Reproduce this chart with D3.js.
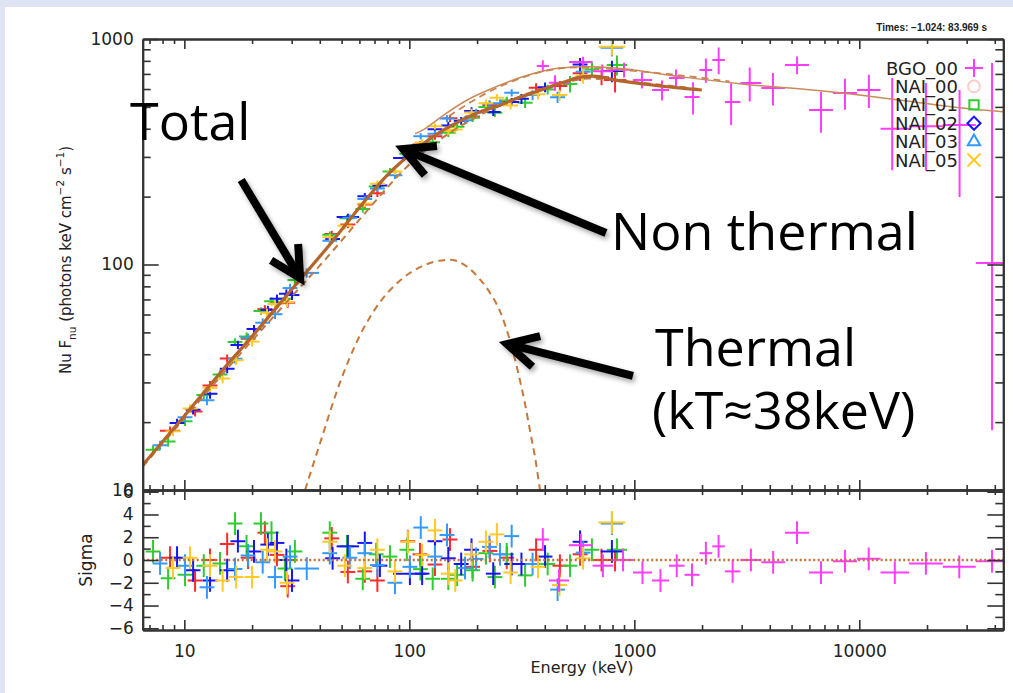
<!DOCTYPE html>
<html><head><meta charset="utf-8">
<script src="https://cdn.jsdelivr.net/npm/d3@7"></script>
<style>
html,body{margin:0;padding:0;background:#dfe4f4;}
svg{display:block;}
</style></head><body>
<svg id="chart" width="1013" height="693"></svg>
<script>
// ---------------- data ----------------
// detector names and colours (legend order)
const detectorNames = ["BGO_00", "NAI_00", "NAI_01", "NAI_02", "NAI_03", "NAI_05"];
const detectorColors = ["#ff3cff", "#ff2a2a", "#2ecc2e", "#1515ff", "#3399ff", "#ffc928"];
const legendColors = ["#ff3cff", "#ffcccc", "#2ecc2e", "#1515ff", "#3399ff", "#ffc928"];

// NaI spectra: [energy keV, nuFnu, error, residual sigma, (optional half bin width, dex)]
const nai00 = [
  [8.64,18.3,0.81,0.2,0.045],[11.16,22.3,1.1,-1.8],[13.0,29.1,1.3,0.0],[15.5,38.3,1.6,1.4],
  [19.2,46.9,2.1,0.2],[22.8,63.4,2.6,2.4],[25.8,67.3,3.0,0.45],[28.8,67.7,3.4,-2.3],
  [45.2,136.5,4.5,1.9],[53.3,150.3,5.5,-1.05],[63.4,184.3,6.7,-1.0],[72.1,207,7.7,-1.8],
  [98.5,320.5,10.6,1.65],[111.5,340.9,11.7,0.5],[130,370.7,13.2,-0.4],[151.6,444.9,16.6,1.8],
  [191,452.9,18.6,-0.6],[228,509.8,19.8,0.8],[271,527.2,21,0.2],[366,608,29,0.9],
  [467,619,32,-0.5],[574,705,54,0.5],[715,677,54,0.0],[821,658,79,0.0,0.05]
];
const nai01 = [
  [7.26,15.1,0.66,0.75],[8.47,16.4,0.8,-1.6],[10.07,20.2,0.97,-1.3],[12.2,26.4,1.2,-0.5],
  [14.4,32.5,1.5,-0.3],[16.8,45.3,1.8,3.2],[18.9,47.9,2.0,1.2],[21.9,62.2,2.4,3.2],
  [24.4,68.7,2.8,2.4],[28.0,70.5,3.3,-0.75],[31.0,85.3,3.7,0.75],[44.3,135.5,4.4,2.4],
  [52.8,160.5,5.4,1.2],[62.1,176.2,6.5,-1.65],[71.2,221.8,7.6,0.5],[82,258.7,9,0.3],
  [97.5,309.5,10.5,0.9],[112,326.6,11.8,-0.8],[127,348.6,13,-1.65],[149,383.9,16.4,-1.65],
  [163,408.6,17.2,-1.3],[191,447.3,18.6,-0.9],[219,499.7,19.5,0.6],[240,471,20,-1.5],
  [271,533.5,21,0.5],[327,522,28,-1.35],[412,597,30,-0.35],[518,632,53,-0.5],
  [648,733,55,0.9],[837,767,79,0.9,0.045]
];
const nai02 = [
  [9.28,19.8,0.88,0.2],[10.94,22.7,1.07,-0.9],[13.0,26.7,1.3,-1.8],[15.5,34.5,1.6,-0.9],
  [17.3,44.0,1.85,1.65],[20.4,51.7,2.25,0.75],[23.5,62.9,2.7,1.35],[25.8,70.5,3.0,1.5],
  [28.4,74.2,3.3,0.0],[30.1,73.2,3.6,-1.8],[45.6,129.7,4.5,0.15],[53.3,162.6,5.5,1.2,0.05],
  [63.4,201,6.7,1.5],[74,224,8,-0.5],[100.6,297,10.9,-1.2,0.075],[114,327.6,12,-1.2],
  [130,397.7,13.2,1.65],[149,413.5,16.4,0.15],[170,433.8,17.6,-0.35],[189,479.7,18.5,0.9],
  [236,475,20,-1.2],[285,525.5,21.3,-0.35],[315,543,27.7,-0.35],[401,611,30,0.3],
  [574,770,54,1.6],[795,722,79,0.75,0.05]
];
const nai03 = [
  [7.8,15.8,0.72,-0.3],[10.07,21.0,0.97,-0.5],[12.6,25.0,1.26,-2.4],[16.8,38.2,1.8,-0.8],
  [19.2,47.3,2.1,0.4],[22.3,55.2,2.5,-0.2],[25.3,60.2,2.9,-1.5],[29.5,78.6,3.5,0.3],
  [35,91.8,4.3,-0.75,0.055],[44.3,127.6,4.4,0.6],[54.4,161,5.6,0.2],[63.4,195,6.7,0.6],
  [72.1,217.5,7.7,-0.45],[86.3,249,9.4,-2.0],[100.6,303.5,10.9,-0.6],[112.4,370.6,11.8,2.85],
  [130,380,13.2,0.3],[147,443.9,16.3,2.2],[176.8,436.4,18,-0.7],[198,471.9,18.8,0.1],
  [227,515.7,19.7,1.15],[253,519.2,20.4,0.5],[285,577.8,21.3,2.1],[353,564,28.7,-0.35],
  [456,552,31.5,-2.6],[592,715,54,0.65],[795,915,79,3.2,0.05]
];
const nai05 = [
  [8.9,18.2,0.85,-0.7],[10.6,23.0,1.03,0.2],[13.0,28.4,1.3,-0.5],[14.8,31.2,1.5,-1.8],
  [17.0,37.6,1.8,-1.5],[20.0,45.5,2.2,-1.5],[23.3,61.1,2.6,0.9],[25.3,66.8,2.9,0.75],
  [28.6,68.1,3.4,-2.0],[44.3,132,4.4,1.6],[51.7,148.4,5.3,-0.5],[63.4,186.3,6.7,-0.7],
  [72.1,228,7.7,0.9],[86.3,258.6,9.4,-1.0],[98.5,320,10.6,1.6],[114,347.4,12,0.45],
  [130,410.2,13.2,2.6],[149,391.3,16.4,-1.2],[160,397.2,17.1,-1.8],[189,472.3,18.5,0.5],
  [219,519.2,19.5,1.6],[245,549.4,20.2,2.25],[282,507.6,21.2,-1.1],[373,568.4,29.3,-0.6],
  [465,564.3,31.7,-2.2],[592,688,54,0.15],[795,924,79,3.3,0.06]
];
// BGO spectrum: [energy keV, nuFnu, lower bound, upper bound, residual sigma]
const bgo00 = [
  [392,760,715,805,1.8],[444,640,590,690,-1.8],[592,790,745,835,1.3],[720,720,670,770,-0.5],
  [900,730,675,785,0.0],[1081,658,603,713,-1.1],[1327,594,534,654,-1.8],[1532,672,612,732,-0.5],
  [1824,553,463,643,-1.3],[2080,729,639,819,0.6],[2371,807,697,917,1.2],[2692,526,416,636,-1.0],
  [3258,638,528,748,0.0],[4132,607,507,707,-0.2],[5288,767,697,837,2.4],[6759,484,384,584,-1.1],
  [8633,576,486,666,-0.1],[11030,594,494,694,0.1],[14000,400,262,672,-1.1],[19780,410,262,638,-0.3],
  [27900,416,199,594,-0.6],[38900,101.6,18.4,782,-0.1]
];

// model curves: [energy keV, nuFnu]
const totalNaI = [[6.53,12.9],[10,21.3],[15,34.6],[20,48],[30,77.5],[45,125],[60,179],[80,250],
  [91,282],[110,330],[127,368],[150,408],[200,470],[253,509],[300,545],[350,575],[423,614],
  [500,650],[555,672],[600,681],[655,684],[720,677],[805,660],[987,640],[1200,625],[1397,614],
  [1700,602],[1995,594]];
const totalBGO = [[106,380],[115,395],[140,455],[180,535],[230,600],[280,650],[350,700],[468,743],
  [617,753],[800,745],[987,728],[1596,681],[3000,632],[6210,594],[10000,565],[17290,527],
  [30000,492],[43650,476]];
const nonThermalNaI = [[6.53,12.7],[10,20.8],[20,46],[30,72],[45,113],[60,158],[80,220],[100,278],
  [130,345],[160,398],[200,452],[260,515],[330,570],[420,615],[520,650],[620,668],[800,660],
  [1000,645],[1500,618],[1995,598]];
const nonThermalBGO = [[150,455],[220,575],[300,660],[400,720],[550,748],[700,742],[1000,722],
  [1500,695],[2650,648]];
const thermal = [[34.4,10],[40,16],[49.2,30],[60,48],[74,68],[91,85],[111,97],[130,103],[152,105],
  [180,98],[206,86],[230,74],[253,62],[280,46],[305,33],[327,24],[345,18],[362,14],[381,10],[395,8]];

// axis ticks
const energyMajor = [10, 100, 1000, 10000];
const fluxMajor = [10, 100, 1000];
const sigmaMajor = [-6, -4, -2, 0, 2, 4, 6];
const sigmaMinor = [-5, -3, -1, 1, 3, 5];

// ---------------- layout ----------------
const W = 1013, H = 693;
const frame = {left: 142.7, right: 1003.3, top: 39, mid: 490, bottom: 630};
const svg = d3.select("#chart");
const defs = svg.append("defs");

svg.append("rect").attr("width", W).attr("height", H).attr("fill", "#dfe4f4");
svg.append("rect").attr("x", 5).attr("y", 7).attr("width", W - 5).attr("height", H - 7).attr("fill", "#ffffff");

const x = d3.scaleLog().domain([6.53, 43650]).range([frame.left, frame.right]);
const y = d3.scaleLog().domain([10, 1000]).range([frame.mid, frame.top]);
const ys = d3.scaleLinear().domain([-6.15, 6.15]).range([frame.bottom, frame.mid]);

defs.append("clipPath").attr("id", "clipMain").append("rect")
  .attr("x", frame.left).attr("y", frame.top).attr("width", frame.right - frame.left).attr("height", frame.mid - frame.top);
defs.append("clipPath").attr("id", "clipRes").append("rect")
  .attr("x", frame.left).attr("y", frame.mid).attr("width", frame.right - frame.left).attr("height", frame.bottom - frame.mid);

const shadow = defs.append("filter").attr("id", "shadow").attr("x", "-20%").attr("y", "-20%").attr("width", "140%").attr("height", "140%");
shadow.append("feDropShadow").attr("dx", 2).attr("dy", 3).attr("stdDeviation", 2.5)
  .attr("flood-color", "#000").attr("flood-opacity", 0.35);

const mainG = svg.append("g").attr("clip-path", "url(#clipMain)");
const resG = svg.append("g").attr("clip-path", "url(#clipRes)");

// ---------------- data crosses ----------------
const naiSets = [nai00, nai01, nai02, nai03, nai05];
const defaultHalfBin = 0.033;

function drawCross(g, x1, x2, yc, y1, y2, color) {
  g.append("line").attr("x1", x1).attr("x2", x2).attr("y1", yc).attr("y2", yc)
    .attr("stroke", color).attr("stroke-width", 2);
  g.append("line").attr("x1", (x1 + x2) / 2).attr("x2", (x1 + x2) / 2).attr("y1", y1).attr("y2", y2)
    .attr("stroke", color).attr("stroke-width", 2);
}

naiSets.forEach((rows, i) => {
  const color = detectorColors[i + 1];
  const gm = mainG.append("g"), gr = resG.append("g");
  rows.forEach(r => {
    const hw = r.length > 4 ? r[4] : defaultHalfBin;
    const xl = x(r[0] / Math.pow(10, hw)), xr = x(r[0] * Math.pow(10, hw));
    const xc = x(r[0]);
    const half = Math.max(xc - xl, xr - xc);
    drawCross(gm, xc - half, xc + half, y(r[1]), y(r[1] - r[2]), y(r[1] + r[2]), color);
    drawCross(gr, xc - half, xc + half, ys(r[3]), ys(r[3] - 1), ys(r[3] + 1), color);
  });
});

// BGO bins are contiguous: edges sit halfway (in log energy) between neighbours
(function () {
  const color = detectorColors[0];
  const gm = mainG.append("g"), gr = resG.append("g");
  const le = bgo00.map(r => Math.log10(r[0]));
  bgo00.forEach((r, i) => {
    const lo = i > 0 ? (le[i] + le[i - 1]) / 2 : le[i] - (le[i + 1] - le[i]) / 2;
    const hi = i < le.length - 1 ? (le[i] + le[i + 1]) / 2 : le[i] + (le[i] - le[i - 1]) / 2;
    const x1 = x(Math.pow(10, lo)), x2 = x(Math.pow(10, hi)), xc = x(r[0]);
    gm.append("line").attr("x1", x1).attr("x2", x2).attr("y1", y(r[1])).attr("y2", y(r[1]))
      .attr("stroke", color).attr("stroke-width", 2);
    gm.append("line").attr("x1", xc).attr("x2", xc).attr("y1", y(r[2])).attr("y2", y(r[3]))
      .attr("stroke", color).attr("stroke-width", 2);
    drawCross(gr, x1, x2, ys(r[4]), ys(r[4] - 1), ys(r[4] + 1), color);
  });
})();

// ---------------- model curves ----------------
const line = d3.line().x(d => x(d[0])).y(d => y(d[1])).curve(d3.curveMonotoneX);
mainG.append("path").datum(totalBGO).attr("d", line).attr("fill", "none")
  .attr("stroke", "#c98a5c").attr("stroke-width", 1.5);
mainG.append("path").datum(nonThermalBGO).attr("d", line).attr("fill", "none")
  .attr("stroke", "#c98450").attr("stroke-width", 1.8).attr("stroke-dasharray", "7,5");
mainG.append("path").datum(nonThermalNaI).attr("d", line).attr("fill", "none")
  .attr("stroke", "#c07a40").attr("stroke-width", 2).attr("stroke-dasharray", "7,5");
mainG.append("path").datum(totalNaI).attr("d", line).attr("fill", "none")
  .attr("stroke", "#b3652b").attr("stroke-width", 3.2);
mainG.append("path").datum(thermal).attr("d", line).attr("fill", "none")
  .attr("stroke", "#c8773a").attr("stroke-width", 2).attr("stroke-dasharray", "7,5");

// zero line of the residuals
resG.append("line").attr("x1", frame.left).attr("x2", frame.right)
  .attr("y1", ys(0)).attr("y2", ys(0))
  .attr("stroke", "#c0703a").attr("stroke-width", 2.5).attr("stroke-dasharray", "2,2.5");

// ---------------- axes ----------------
const axisFont = "'DejaVu Sans', sans-serif";
const energyMinor = x.ticks().filter(v => !energyMajor.includes(v));
const fluxMinor = y.ticks().filter(v => !fluxMajor.includes(v));

function axisLayer(gen, tx, ty, values, size, fmt, pad) {
  const g = svg.append("g").attr("transform", `translate(${tx},${ty})`)
    .call(gen.tickValues(values).tickSizeInner(-size).tickSizeOuter(0)
      .tickFormat(fmt || (() => "")).tickPadding(pad || 3));
  g.selectAll(".tick line").attr("stroke", "#333").attr("stroke-width", 1.6);
  g.select(".domain").attr("stroke", "#333").attr("stroke-width", 2);
  g.attr("font-family", axisFont).attr("font-size", 17);
  g.selectAll(".tick text").attr("fill", "#222");
  return g;
}

// main panel
axisLayer(d3.axisBottom(x), 0, frame.mid, energyMinor, 5);
axisLayer(d3.axisBottom(x), 0, frame.mid, energyMajor, 10);
axisLayer(d3.axisTop(x), 0, frame.top, energyMinor, 5);
axisLayer(d3.axisTop(x), 0, frame.top, energyMajor, 10);
axisLayer(d3.axisLeft(y), frame.left, 0, fluxMinor, 8);
axisLayer(d3.axisLeft(y), frame.left, 0, fluxMajor, 16, d3.format("d"), 9);
axisLayer(d3.axisRight(y), frame.right, 0, fluxMinor, 8);
axisLayer(d3.axisRight(y), frame.right, 0, fluxMajor, 16);

// residual panel
axisLayer(d3.axisTop(x), 0, frame.mid, energyMinor, 5);
axisLayer(d3.axisTop(x), 0, frame.mid, energyMajor, 10);
axisLayer(d3.axisBottom(x), 0, frame.bottom, energyMinor, 5);
axisLayer(d3.axisBottom(x), 0, frame.bottom, energyMajor, 10, d3.format("d"), 15);
axisLayer(d3.axisLeft(ys), frame.left, 0, sigmaMinor, 8);
axisLayer(d3.axisLeft(ys), frame.left, 0, sigmaMajor, 16, d => d3.format("d")(d).replace("-", "\u2212"), 9);
axisLayer(d3.axisRight(ys), frame.right, 0, sigmaMinor, 8);
axisLayer(d3.axisRight(ys), frame.right, 0, sigmaMajor, 16);

// axis titles
const yTitle = svg.append("text").attr("transform", "translate(71,260) rotate(-90)")
  .attr("text-anchor", "middle").attr("font-family", axisFont).attr("font-size", 15).attr("fill", "#222");
yTitle.append("tspan").text("Nu F");
yTitle.append("tspan").attr("font-size", 10.5).attr("dy", 5).text("nu");
yTitle.append("tspan").attr("dy", -5).text(" (photons keV cm");
yTitle.append("tspan").attr("font-size", 10.5).attr("dy", -7).text("\u22122");
yTitle.append("tspan").attr("dy", 7).text(" s");
yTitle.append("tspan").attr("font-size", 10.5).attr("dy", -7).text("\u22121");
yTitle.append("tspan").attr("dy", 7).text(")");

svg.append("text").attr("transform", "translate(92,560) rotate(-90)").attr("text-anchor", "middle")
  .attr("font-family", axisFont).attr("font-size", 17).attr("fill", "#222").text("Sigma");
svg.append("text").attr("x", 582).attr("y", 673).attr("text-anchor", "middle")
  .attr("font-family", axisFont).attr("font-size", 16).attr("fill", "#222").text("Energy (keV)");

svg.append("text").attr("x", 987).attr("y", 31).attr("text-anchor", "end")
  .attr("font-family", "'Liberation Sans', Arial, sans-serif").attr("font-size", 10).attr("font-weight", "bold")
  .attr("fill", "#222").text("Times: \u22121.024: 83.969 s");

// ---------------- legend ----------------
const legendSymbols = [d3.symbolPlus, d3.symbolCircle, d3.symbolSquare2, d3.symbolDiamond2, d3.symbolTriangle2, d3.symbolTimes];
const legend = svg.append("g");
detectorNames.forEach((name, i) => {
  const ly = 68 + i * 18.4;
  legend.append("text").attr("x", 958).attr("y", ly + 6.5).attr("text-anchor", "end")
    .attr("font-family", axisFont).attr("font-size", 18).attr("fill", "#222").text(name);
  legend.append("path").attr("transform", `translate(974,${ly})`)
    .attr("d", d3.symbol(legendSymbols[i], 110)())
    .attr("fill", "none").attr("stroke", legendColors[i]).attr("stroke-width", 2);
});

// ---------------- annotations ----------------
const noteFont = "'Open Sans', 'Noto Sans', sans-serif";
const notes = [
  {text: "Total", tx: 130, ty: 140},
  {text: "Non thermal", tx: 611, ty: 250},
  {text: "Thermal", tx: 655, ty: 366},
  {text: "(kT\u224838keV)", tx: 652, ty: 429}
];
notes.forEach(n => svg.append("text").attr("x", n.tx).attr("y", n.ty)
  .attr("font-family", noteFont).attr("font-size", 52).attr("fill", "#000").text(n.text));

// arrows point at places on the curves, tails sit near the labels
const arrows = [
  {tip: [32.7, 87.1], tail: [17.9, 237]},
  {tip: [93.8, 325], tail: [748, 138]},
  {tip: [272, 44.4], tail: [986, 32.1]}
];
const arrowG = svg.append("g").attr("filter", "url(#shadow)");
arrows.forEach(a => {
  const tx = x(a.tip[0]), ty = y(a.tip[1]);
  const sx = x(a.tail[0]), sy = y(a.tail[1]);
  const ang = Math.atan2(ty - sy, tx - sx);
  const armLen = 34, spread = Math.PI / 6.5;
  const p1 = [tx - armLen * Math.cos(ang - spread), ty - armLen * Math.sin(ang - spread)];
  const p2 = [tx - armLen * Math.cos(ang + spread), ty - armLen * Math.sin(ang + spread)];
  arrowG.append("line").attr("x1", sx).attr("y1", sy)
    .attr("x2", tx - 4 * Math.cos(ang)).attr("y2", ty - 4 * Math.sin(ang))
    .attr("stroke", "#000").attr("stroke-width", 8);
  arrowG.append("path").attr("d", `M${p1[0]},${p1[1]}L${tx},${ty}L${p2[0]},${p2[1]}`)
    .attr("fill", "none").attr("stroke", "#000").attr("stroke-width", 8)
    .attr("stroke-linejoin", "miter").attr("stroke-miterlimit", 10);
});
</script>
</body></html>
